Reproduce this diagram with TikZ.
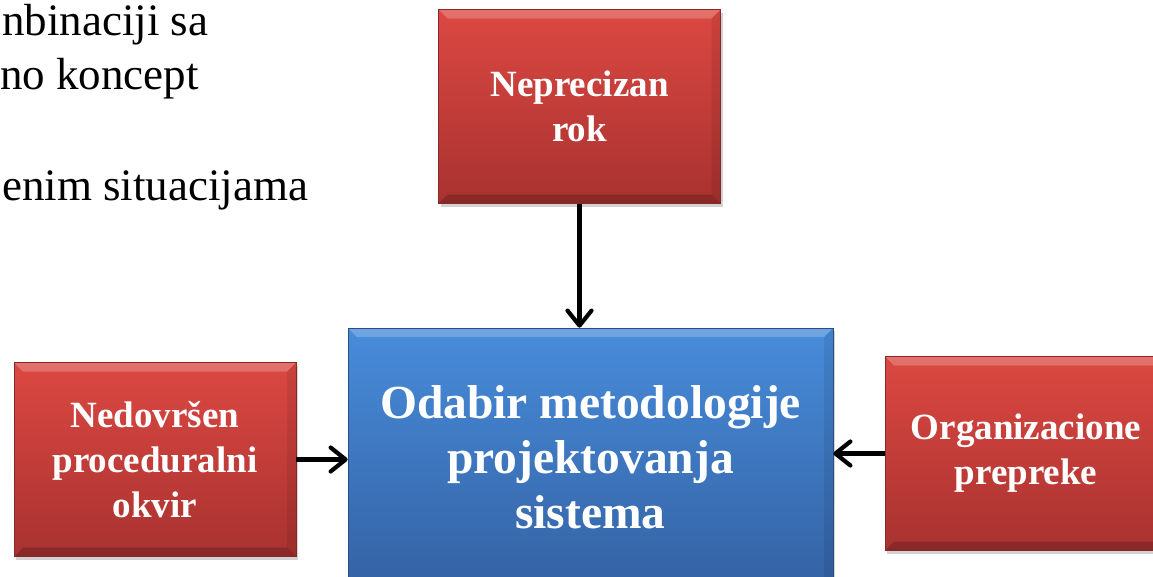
\documentclass[tikz,border=0pt]{standalone}
\usepackage{fontspec}
\setmainfont{Liberation Serif}
\usetikzlibrary{arrows.meta,shadows}

\definecolor{redtop}{RGB}{220,72,66}
\definecolor{redbot}{RGB}{168,50,48}
\definecolor{bluetop}{RGB}{72,140,218}
\definecolor{bluebot}{RGB}{52,98,164}

\begin{document}
\begin{tikzpicture}[x=1pt,y=-1pt,
  bevel/.style={path picture={
    \fill[white,opacity=.22] (path picture bounding box.north west) -- (path picture bounding box.north east)
      -- ([xshift=-9pt,yshift=-9pt]path picture bounding box.north east) -- ([xshift=9pt,yshift=-9pt]path picture bounding box.north west) -- cycle;
    \fill[black,opacity=.18] (path picture bounding box.south west) -- (path picture bounding box.south east)
      -- ([xshift=-9pt,yshift=9pt]path picture bounding box.south east) -- ([xshift=9pt,yshift=9pt]path picture bounding box.south west) -- cycle;
    \fill[black,opacity=.08] (path picture bounding box.north east) -- (path picture bounding box.south east)
      -- ([xshift=-9pt,yshift=9pt]path picture bounding box.south east) -- ([xshift=-9pt,yshift=-9pt]path picture bounding box.north east) -- cycle;}},
  redbox/.style={rectangle, top color=redtop, bottom color=redbot, draw=redbot!80!black, line width=.6pt,
    bevel, drop shadow={shadow xshift=2pt,shadow yshift=-3pt,opacity=.35},
    minimum width=282pt, minimum height=194pt, align=center, text=white,
    font=\fontsize{37}{45}\selectfont\bfseries},
  bluebox/.style={redbox, top color=bluetop, bottom color=bluebot, draw=bluebot!80!black,
    minimum width=485pt, minimum height=258pt, font=\fontsize{47.5}{55}\selectfont\bfseries},
  feeds/.style={line width=4.2pt, -{Straight Barb[round,length=15pt,width=24pt,line width=4.2pt]}},
  bodytext/.style={anchor=base west, inner sep=0pt, text height=31pt, font=\fontsize{45}{56}\selectfont}]
\clip (0,0) rectangle (1153,576);
\fill[white] (0,0) rectangle (1153,576);

\node[bodytext] (txta) at (2,35) {nbinaciji sa};
\node[bodytext] (txtb) at (0,89) {no koncept};
\node[bodytext] (txtc) at (2,200) {enim situacijama};

\node[redbox] (nep) at (579.5,106.5) {Neprecizan\\rok};
\node[bluebox] (odabir) at (590.5,457) {Odabir metodologije\\projektovanja\\sistema};
\node[redbox] (nedo) at (155,459.5) {Nedovršen\\proceduralni\\okvir};
\node[redbox] (org) at (1026,453.5) {Organizacione\\prepreke};

\draw[feeds] (nep.south) -- (nep.south |- odabir.north);
\draw[feeds] (nedo.east) -- (nedo.east -| odabir.west);
\draw[feeds] (org.west) -- (org.west -| odabir.east);
\end{tikzpicture}
\end{document}
